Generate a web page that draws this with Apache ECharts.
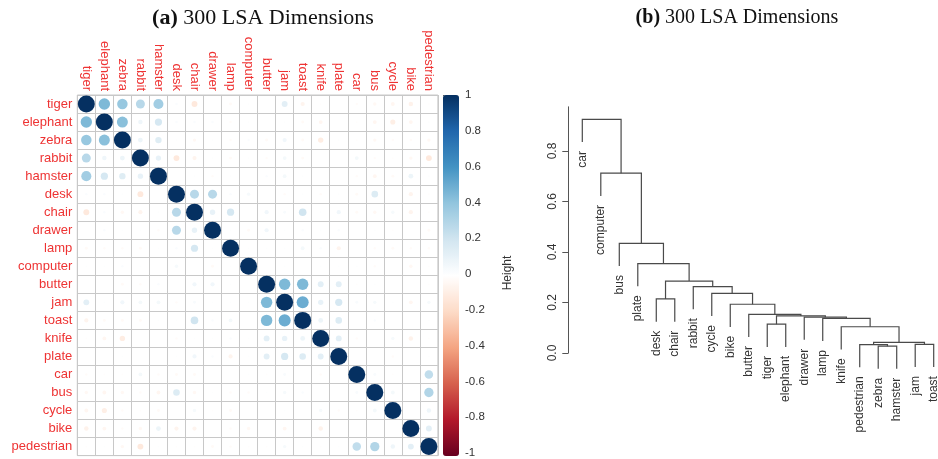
<!DOCTYPE html>
<html><head><meta charset="utf-8">
<script src="https://cdn.jsdelivr.net/npm/echarts@6/dist/echarts.min.js"></script>
<style>html,body{margin:0;padding:0;background:#fff}#c{width:938px;height:459px}</style>
</head><body><div id="c"></div>
<script>
// ---------- (a) correlation matrix ----------
const words = ['tiger','elephant','zebra','rabbit','hamster','desk','chair','drawer','lamp','computer','butter','jam','toast','knife','plate','car','bus','cycle','bike','pedestrian'];
// upper triangle, row i holds correlations with words i+1 .. 19
const corrUpper = [
 [0.45,0.38,0.28,0.35,0.02,-0.12,0.00,-0.03,0.01,0.00,0.12,-0.06,-0.01,0.00,-0.02,-0.04,-0.05,-0.07,-0.01],
 [0.42,0.07,0.18,0.02,0.02,0.02,-0.02,0.01,0.00,0.01,-0.03,-0.05,0.00,-0.01,-0.05,-0.09,-0.05,0.01],
 [0.08,0.14,0.01,-0.04,0.01,-0.02,0.02,-0.03,0.06,-0.03,-0.10,0.01,-0.01,-0.04,-0.02,-0.02,-0.04],
 [0.10,-0.12,-0.06,0.01,-0.03,0.01,-0.02,0.05,-0.03,0.00,0.00,0.05,-0.02,-0.01,-0.04,-0.12],
 [0.00,0.01,-0.02,0.01,0.00,0.02,0.05,0.01,0.00,0.00,-0.02,-0.05,-0.03,0.08,0.01],
 [0.28,0.28,0.02,0.04,0.00,-0.02,0.01,-0.02,0.01,-0.03,0.15,0.00,-0.06,-0.01],
 [0.10,0.18,0.00,0.06,0.03,0.20,0.01,0.06,-0.03,-0.04,0.04,-0.06,-0.01],
 [0.01,-0.03,0.06,0.01,0.02,0.01,0.02,0.00,0.01,-0.01,0.00,-0.03],
 [0.01,0.01,0.01,0.05,0.02,-0.06,0.00,-0.02,-0.03,-0.02,-0.02],
 [0.00,0.01,0.00,0.01,0.01,0.01,-0.02,0.00,-0.04,-0.01],
 [0.45,0.45,0.12,0.12,-0.01,0.01,0.00,0.00,-0.01],
 [0.50,0.10,0.18,0.03,0.04,0.01,-0.05,0.04],
 [0.08,0.15,0.00,0.02,0.00,0.00,0.01],
 [0.12,-0.02,0.00,0.04,-0.07,-0.01],
 [0.00,0.00,-0.02,0.00,0.01],
 [0.03,-0.01,0.00,0.25],
 [0.05,0.00,0.30],
 [0.00,0.07],
 [0.12]
];
const colorbarTicks = [-1,-0.8,-0.6,-0.4,-0.2,0,0.2,0.4,0.6,0.8,1];
const palette = ['#67001F','#B2182B','#D6604D','#F4A582','#FDDBC7','#FFFFFF','#D1E5F0','#92C5DE','#4393C3','#2166AC','#053061'];

// ---------- (b) dendrogram ----------
const leafOrder = ['car','computer','bus','plate','desk','chair','rabbit','cycle','bike','butter','tiger','elephant','drawer','lamp','knife','pedestrian','zebra','hamster','jam','toast'];
// hclust-style merges: negative = leaf position (1-based), positive = earlier merge (1-based)
const mergeLeft  = [-17,-16,-19, 2,-15,-11,-14,-13, 6,-10, -9, -5, -8, -7, 12, -4, -3, -2, -1];
const mergeRight = [-18,  1,-20, 3,  4,-12,  5,  7, 8,  9, 10, -6, 11, 13, 14, 15, 16, 17, 18];
const mergeHeight = [0.027,0.033,0.034,0.042,0.104,0.114,0.137,0.142,0.147,0.153,0.193,0.214,0.236,0.263,0.285,0.354,0.434,0.712,0.925];
const heightTicks = [0,0.2,0.4,0.6,0.8];

// build matrix
const n = words.length;
const M = [];
for (let i=0;i<n;i++){ M.push(new Array(n).fill(0)); M[i][i]=1; }
corrUpper.forEach((row,i)=>row.forEach((v,k)=>{const j=i+1+k; M[i][j]=v; M[j][i]=v;}));
const scatterData = [];
for (let i=0;i<n;i++) for (let j=0;j<n;j++) scatterData.push([j,i,M[i][j]]);

// dendrogram geometry (in data units)
const hs = Math.max(...mergeHeight), hm = Math.min(...mergeHeight);
const hang = 0.1*(hs-hm);
const nodeX = [];
function childInfo(c, h){
  if (c<0) return {x:-c, y:h-hang, leaf:-c};
  return {x:nodeX[c-1], y:mergeHeight[c-1]};
}
const dendroData = [], leafData = [];
for (let k=0;k<mergeLeft.length;k++){
  const h = mergeHeight[k];
  const L = childInfo(mergeLeft[k], h), R = childInfo(mergeRight[k], h);
  nodeX.push((L.x+R.x)/2);
  dendroData.push([L.x, L.y, R.x, R.y, h]);
  if (L.leaf) leafData.push([L.x, L.y, leafOrder[L.leaf-1]]);
  if (R.leaf) leafData.push([R.x, R.y, leafOrder[R.leaf-1]]);
}

const chart = echarts.init(document.getElementById('c'), null, {renderer:'canvas'});
const RED = '#ee3333';
const FONT = 'Liberation Sans';
chart.setOption({
  animation:false,
  backgroundColor:'#fff',
  graphic:[
    {type:'text', x:263, y:18, style:{text:'{b|(a)} 300 LSA Dimensions', align:'center', verticalAlign:'middle',
      fontFamily:'Liberation Serif', fontSize:22, fill:'#111', rich:{b:{fontWeight:'bold', fontFamily:'Liberation Serif', fontSize:22, fill:'#111'}}}},
    {type:'text', x:737, y:18, style:{text:'{b|(b)} 300 LSA Dimensions', align:'center', verticalAlign:'middle',
      fontFamily:'Liberation Serif', fontSize:20, fill:'#111', rich:{b:{fontWeight:'bold', fontFamily:'Liberation Serif', fontSize:20, fill:'#111'}}}},
    {type:'text', x:508, y:273, rotation:Math.PI/2, style:{text:'Height', align:'center', verticalAlign:'middle',
      fontFamily:FONT, fontSize:12, fill:'#333'}}
  ],
  grid:[
    {left:77.3, top:95, width:360.6, height:360.6, show:true, borderColor:'#c8c8c8', borderWidth:1, backgroundColor:'#fff'},
    {left:582.3, top:106.8, width:351.4, height:246.2},
    {left:443, top:95, width:16, height:361}
  ],
  xAxis:[
    {gridIndex:0, type:'category', data:words, position:'top', boundaryGap:true,
     axisLine:{show:false}, axisTick:{show:false},
     axisLabel:{rotate:90, margin:4, color:RED, fontSize:13, fontFamily:FONT, interval:0},
     splitLine:{show:true, interval:0, lineStyle:{color:'#c8c8c8', width:1}}},
    {gridIndex:1, type:'value', min:1, max:20, show:false},
    {gridIndex:2, type:'value', min:0, max:1, show:false}
  ],
  yAxis:[
    {gridIndex:0, type:'category', data:words, inverse:true, boundaryGap:true,
     axisLine:{show:false}, axisTick:{show:false},
     axisLabel:{margin:5, color:RED, fontSize:13, fontFamily:FONT, interval:0},
     splitLine:{show:true, interval:0, lineStyle:{color:'#c8c8c8', width:1}}},
    {gridIndex:1, type:'value', min:0, max:0.975, interval:0.2, offset:14,
     axisLine:{show:true, lineStyle:{color:'#555', width:1}},
     axisTick:{show:true, length:6, customValues:heightTicks, lineStyle:{color:'#555'}},
     axisLabel:{show:true, customValues:heightTicks, rotate:90, margin:10, color:'#333', fontSize:12, fontFamily:FONT,
       formatter:v=>Number(v).toFixed(1)},
     splitLine:{show:false}},
    {gridIndex:2, type:'value', min:-1, max:1, interval:0.2, position:'right',
     axisLine:{show:false},
     axisTick:{show:true, length:4, lineStyle:{color:'#555'}},
     axisLabel:{margin:6, color:'#333', fontSize:11.5, fontFamily:FONT, formatter:v=>String(Math.round(v*10)/10)},
     splitLine:{show:false}}
  ],
  visualMap:{
    type:'continuous', min:-1, max:1, seriesIndex:0, dimension:2,
    inRange:{color:palette}, calculable:false, hoverLink:false,
    orient:'vertical', left:443, top:95, padding:0, itemWidth:16, itemHeight:361,
    showLabel:false, text:null
  },
  series:[
    {type:'scatter', xAxisIndex:0, yAxisIndex:0, data:scatterData, symbol:'circle',
     symbolSize:v=>17*Math.sqrt(Math.abs(v[2])), itemStyle:{opacity:1}, silent:true},
    {type:'custom', xAxisIndex:1, yAxisIndex:1, data:dendroData, clip:false, silent:true,
     renderItem:(params, api)=>{
       const a = api.coord([api.value(0), api.value(1)]);
       const b = api.coord([api.value(0), api.value(4)]);
       const c = api.coord([api.value(2), api.value(4)]);
       const d = api.coord([api.value(2), api.value(3)]);
       return {type:'polyline', shape:{points:[a,b,c,d]}, style:{stroke:'#4a4a4a', lineWidth:1.2, fill:null}};
     }},
    {type:'custom', xAxisIndex:1, yAxisIndex:1, data:leafData, clip:false, silent:true,
     dimensions:['x','y','name'],
     renderItem:(params, api)=>{
       const p = api.coord([api.value(0), api.value(1)]);
       return {type:'text', x:p[0], y:p[1]+9, rotation:Math.PI/2,
         style:{text:leafData[params.dataIndex][2], align:'right', verticalAlign:'middle',
           fontFamily:FONT, fontSize:12, fill:'#333'}};
     }}
  ]
});
</script></body></html>
